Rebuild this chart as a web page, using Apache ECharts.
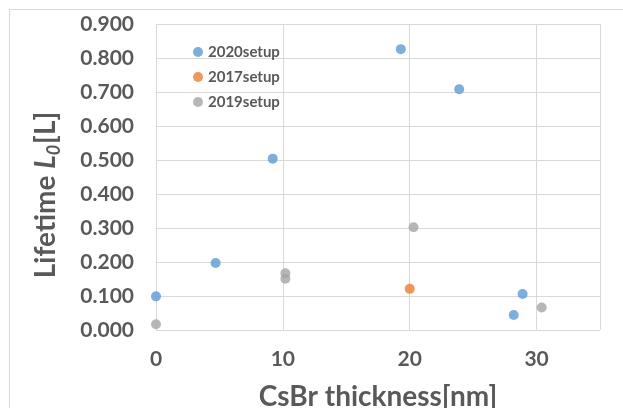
<!DOCTYPE html>
<html>
<head>
<meta charset="utf-8">
<script src="https://cdn.jsdelivr.net/npm/echarts@6/dist/echarts.min.js"></script>
<style>
html,body{margin:0;padding:0;background:#fff;}
#main{width:623px;height:408px;}
</style>
</head>
<body>
<div id="main"></div>
<script>
var seriesNames = ['2020setup', '2017setup', '2019setup'];
var data2020 = [[0, 0.099], [4.7, 0.197], [9.2, 0.504], [19.3, 0.826], [23.9, 0.708], [28.2, 0.044], [28.9, 0.106]];
var data2017 = [[20.0, 0.121]];
var data2019 = [[0, 0.017], [10.2, 0.167], [10.2, 0.151], [20.3, 0.302], [30.4, 0.066]];
var colors = ['#5B9BD5', '#ED7D31', '#A5A5A5'];
var xTitle = 'CsBr thickness[nm]';

var textColor = '#595959';
var font = 'Lato';

var chart = echarts.init(document.getElementById('main'));
var option = {
  animation: false,
  backgroundColor: '#fff',
  grid: {left: 156, top: 24, right: 23, bottom: 78, containLabel: false, outerBoundsMode: 'none'},
  legend: {
    orient: 'vertical',
    left: 188,
    top: 39,
    itemWidth: 10,
    itemHeight: 10,
    itemGap: 9,
    icon: 'circle',
    data: seriesNames,
    textStyle: {color: textColor, fontFamily: font, fontWeight: 'bold', fontSize: 15, lineHeight: 16}
  },
  xAxis: {
    type: 'value',
    min: 0, max: 35, interval: 10,
    name: xTitle,
    nameLocation: 'middle',
    nameGap: 53,
    nameTextStyle: {color: textColor, fontFamily: font, fontWeight: 'bold', fontSize: 28},
    axisLine: {show: false},
    axisTick: {show: false},
    axisLabel: {color: textColor, fontFamily: font, fontWeight: 'bold', fontSize: 21, margin: 19, showMaxLabel: false},
    splitLine: {show: true, lineStyle: {color: '#D9D9D9', width: 1}}
  },
  yAxis: {
    type: 'value',
    min: 0, max: 0.9, interval: 0.1,
    axisLine: {show: false},
    axisTick: {show: false},
    axisLabel: {color: textColor, fontFamily: font, fontWeight: 'bold', fontSize: 21, margin: 22,
      formatter: function (v) { return v.toFixed(3); }},
    splitLine: {show: true, lineStyle: {color: '#D9D9D9', width: 1}}
  },
  graphic: [
    {type: 'rect', silent: true, shape: {x: 9.5, y: 9.5, width: 700, height: 500},
     style: {fill: 'none', stroke: '#D9D9D9', lineWidth: 1}},
    {type: 'text', x: 46, y: 195, rotation: Math.PI / 2,
     style: {
       text: '{a|Lifetime }{b|L}{c|0}{a|[L]}',
       align: 'center', verticalAlign: 'middle',
       rich: {
         a: {fontFamily: font, fontWeight: 'bold', fontSize: 28, fill: textColor, lineHeight: 34, verticalAlign: 'middle'},
         b: {fontFamily: font, fontWeight: 'bold', fontStyle: 'italic', fontSize: 28, fill: textColor, lineHeight: 34, verticalAlign: 'middle'},
         c: {fontFamily: font, fontWeight: 'bold', fontStyle: 'italic', fontSize: 18, fill: textColor, lineHeight: 34, verticalAlign: 'bottom', padding: [0, 1, 0, 0]}
       }
     }}
  ],
  series: [
    {name: seriesNames[0], type: 'scatter', data: data2020, symbolSize: 10, itemStyle: {color: colors[0]}},
    {name: seriesNames[1], type: 'scatter', data: data2017, symbolSize: 10, itemStyle: {color: colors[1]}},
    {name: seriesNames[2], type: 'scatter', data: data2019, symbolSize: 10, itemStyle: {color: colors[2]}}
  ]
};
chart.setOption(option);
</script>
</body>
</html>
